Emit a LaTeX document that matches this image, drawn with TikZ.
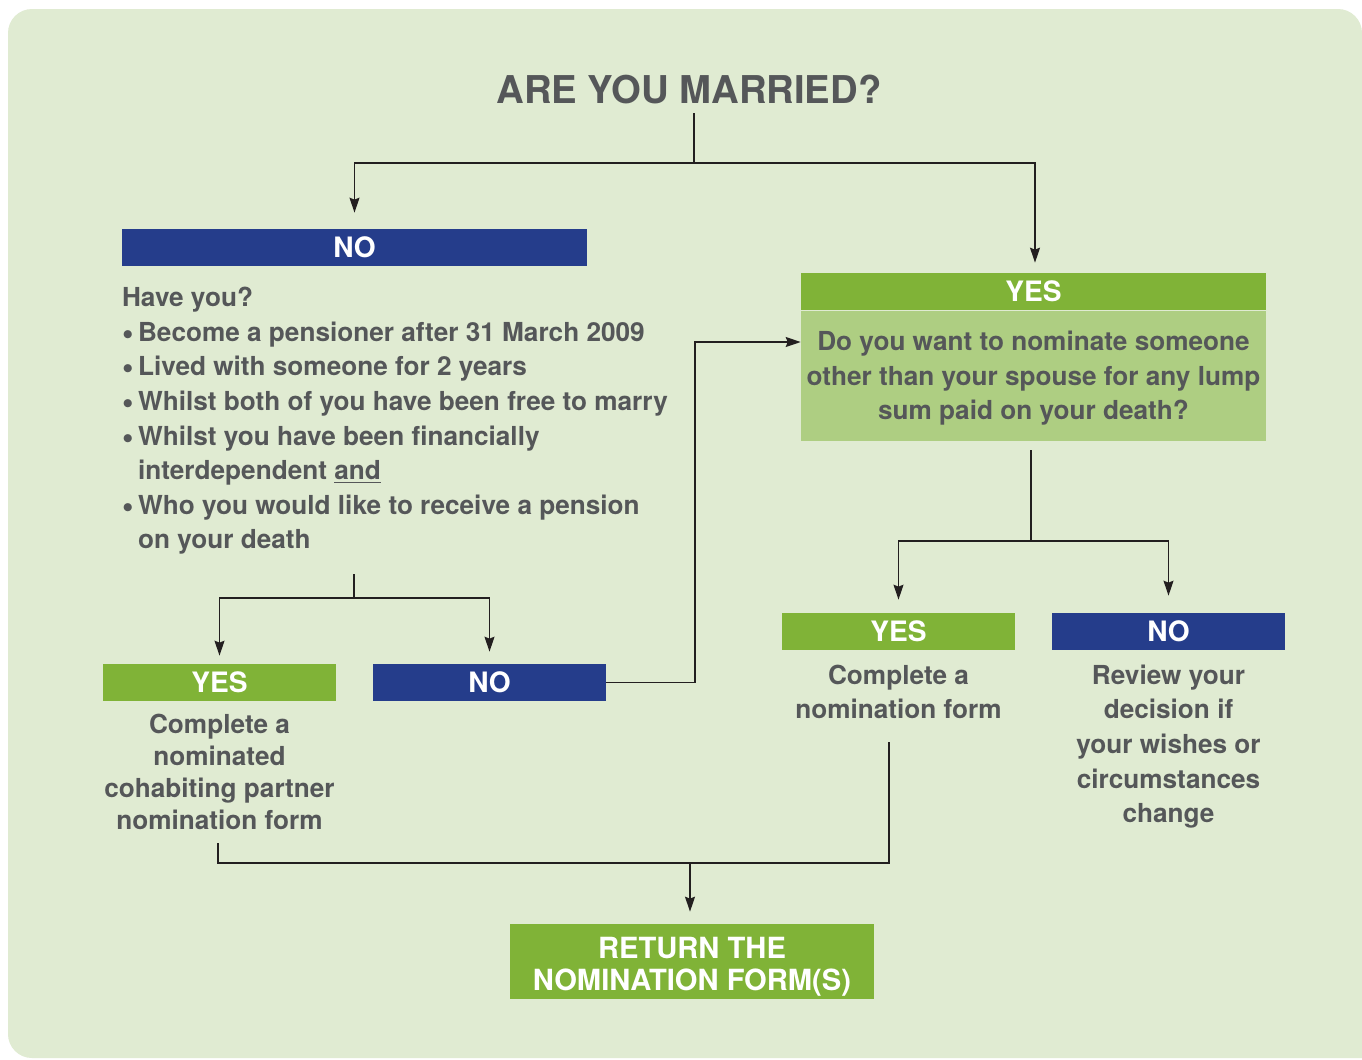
\documentclass[tikz,border=0pt]{standalone}
\usepackage{fontspec}
\setmainfont{TeX Gyre Heros}
\usepackage{tikz}
\usetikzlibrary{positioning}
\usetikzlibrary{arrows.meta}

\definecolor{panel}{HTML}{E0EBD2}
\definecolor{leaf}{HTML}{80B337}
\definecolor{pale}{HTML}{AECE82}
\definecolor{navy}{HTML}{253D8B}
\definecolor{ink}{HTML}{555759}
\definecolor{wirec}{HTML}{231F20}

\newcommand{\bodysize}{\fontsize{14.9}{19.7}\selectfont\bfseries}
\newcommand{\bul}{\makebox[0.32cm][l]{\raisebox{-0.06cm}{\scalebox{1.25}{\textbullet}}}}
\newcommand{\ind}{\hspace*{0.32cm}}
\newcommand{\stack}[2]{\raisebox{#1}[\height][\depth]{\begin{tabular}{@{}c@{}}#2\end{tabular}}}

\tikzset{
    heading/.style={ % the question at the top
        text=ink,
        font=\fontsize{21.8}{26}\selectfont\bfseries
    },
    bar/.style={ % coloured YES / NO headers
        minimum width=9.3cm,
        minimum height=0.74cm,
        inner sep=0pt,
        text=white,
        font=\fontsize{16}{19}\selectfont\bfseries
    },
    yesbar/.style={bar, fill=leaf},
    nobar/.style={bar, fill=navy},
    halfbar/.style={minimum width=4.66cm}, % the four lower headers
    answer/.style={ % grey text under a header
        text=ink,
        inner sep=0pt,
        align=center,
        font=\bodysize
    },
    wire/.style={draw=wirec, line width=0.75pt},
    link/.style={wire, -{Stealth[length=0.3cm, width=0.2cm, inset=0.04cm]}}
}

\begin{document}
\begin{tikzpicture}[x=0.02cm, y=-0.02cm]
    \useasboundingbox[fill=white] (0,0) rectangle (1362,1059);
    \fill[panel] (1362,1058) -- (600,1058) [rounded corners=0.48cm] -- (8,1058) -- (8,9) -- (1362,9) -- (1362,600) [sharp corners] -- cycle;

    \node[heading] (married) at (689,89) {ARE YOU MARRIED?};

    \node[nobar] (no1) at (354.5,247.5) {NO};
    \node[answer, align=left, below right=0.41cm and 0cm of no1.south west] (have) {Have you?\\
        \bul Become a pensioner after 31 March 2009\\
        \bul Lived with someone for 2 years\\
        \bul Whilst both of you have been free to marry\\
        \bul Whilst you have been financially\\
        \ind interdependent \underline{and}\\
        \bul Who you would like to receive a pension\\
        \ind on your death};

    \node[yesbar] (yes1) at (1033.5,291.5) {YES};
    \node[answer, fill=pale, minimum width=9.3cm, minimum height=2.6cm, below=0pt of yes1] (lump) {\stack{-0.05cm}{Do you want to nominate someone\\other than your spouse for any lump\\sum paid on your death?}};

    \node[yesbar, halfbar] (yes2) at (219.5,682.5) {YES};
    \node[nobar, halfbar] (no2) at (489.5,682.5) {NO};
    \node[answer, below=0.25cm of yes2, font=\fontsize{14.9}{18.2}\selectfont\bfseries] (cohab) {Complete a\\nominated\\cohabiting partner\\nomination form};

    \node[yesbar, halfbar] (yes3) at (898.5,631.5) {YES};
    \node[nobar, halfbar] (no3) at (1168.5,631.5) {NO};
    \node[answer, below=0.28cm of yes3] (form) {Complete a\\nomination form};
    \node[answer, below=0.28cm of no3] (review) {Review your\\decision if\\your wishes or\\circumstances\\change};

    \node[yesbar, minimum width=7.28cm, minimum height=1.5cm, font=\fontsize{16.6}{18.1}\selectfont\bfseries] (send) at (692,961.5) {\stack{-0.14cm}{RETURN THE\\NOMINATION FORM(S)}};

    % married or not
    \coordinate (m0) at (694,113);
    \coordinate (m1) at (694,163);
    \draw[wire] (m0) -- (m1);
    \draw[link, shorten >=0.32cm] (m1) -| (no1.north);
    \draw[link, shorten >=0.2cm] (m1) -| ([xshift=0.03cm]yes1.north);

    % cohabiting partner
    \coordinate (h0) at (354,574);
    \coordinate (h1) at (354,598);
    \draw[wire] (h0) -- (h1);
    \draw[link, shorten >=0.16cm] (h1) -| (yes2.north);
    \draw[link, shorten >=0.24cm] (h1) -| (no2.north);
    \coordinate (k1) at (695,342);
    \draw[link] (no2.east) -| (k1) -- (lump.west |- k1);

    % lump sum
    \coordinate (r0) at (1031,450);
    \coordinate (r1) at (1031,541);
    \draw[wire] (r0) -- (r1);
    \draw[link, shorten >=0.26cm] (r1) -| (yes3.north);
    \draw[link, shorten >=0.34cm] (r1) -| (no3.north);

    % return forms
    \coordinate (b0) at (218,843);
    \coordinate (b1) at (889,742);
    \coordinate (b2) at (690,863);
    \draw[wire] (b0) |- (b2) -| (b1);
    \draw[link, shorten >=0.24cm] (b2) -- (b2 |- send.north);
\end{tikzpicture}
\end{document}
